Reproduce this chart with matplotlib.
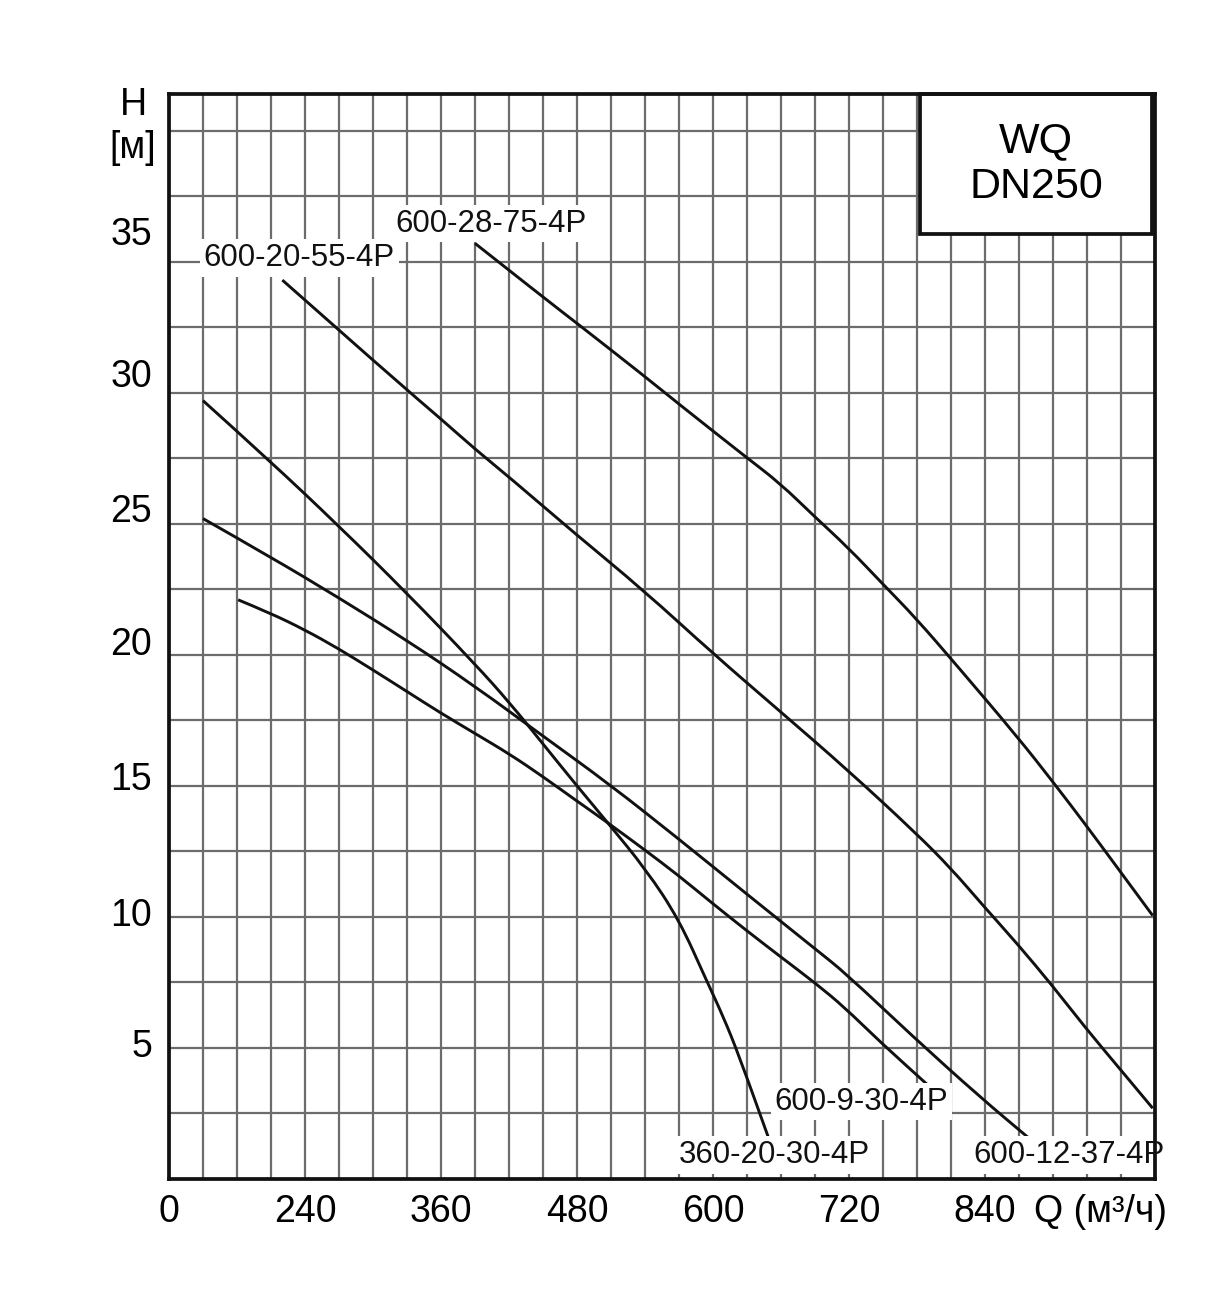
import numpy as np
import matplotlib
matplotlib.use("Agg")
import matplotlib.pyplot as plt
from matplotlib.transforms import ScaledTranslation
from matplotlib.patches import Rectangle, PathPatch
from matplotlib.path import Path

plt.rcParams['font.family'] = ['Liberation Sans', 'DejaVu Sans']

# ---- data (Q in m3/h, H in m) ----
q_600_28_75 = [390, 450, 480, 539, 569, 629, 659, 689, 719, 751, 779, 816, 869, 900, 930, 959, 988]
h_600_28_75 = [35.7, 33.65, 32.65, 30.65, 29.6, 27.55, 26.55, 25.3, 24.1, 22.65, 21.4, 19.55, 16.85, 15.15, 13.45, 11.75, 10.05]

q_600_20_55 = [220, 318, 360, 390, 421, 479, 539, 600, 659, 719, 779, 810, 839, 869, 899, 929, 959, 988]
h_600_20_55 = [34.3, 30.55, 29.0, 27.85, 26.75, 24.6, 22.45, 20.05, 17.85, 15.6, 13.2, 11.85, 10.4, 8.95, 7.4, 5.75, 4.2, 2.7]

q_360_20_30 = [150, 209, 269, 330, 390, 421, 450, 479, 507, 541, 570, 594, 609, 623, 650]
h_360_20_30 = [29.7, 27.4, 24.95, 22.35, 19.65, 18.15, 16.6, 15.05, 13.6, 11.8, 9.9, 7.6, 6.2, 4.7, 1.45]

q_600_12_37 = [150, 209, 269, 330, 390, 450, 509, 569, 629, 691, 717, 776, 835, 879]
h_600_12_37 = [25.2, 23.75, 22.2, 20.55, 18.8, 16.9, 15.05, 13.0, 10.9, 8.75, 7.85, 5.45, 3.15, 1.55]

q_600_9_30 = [181, 209, 240, 269, 299, 330, 359, 390, 421, 450, 479, 507, 540, 569, 600, 629, 659, 691, 716, 747, 793]
h_600_9_30 = [22.1, 21.6, 20.95, 20.25, 19.45, 18.6, 17.8, 17.0, 16.2, 15.35, 14.45, 13.6, 12.55, 11.6, 10.5, 9.5, 8.5, 7.45, 6.55, 5.25, 3.45]

series = [
    (q_600_28_75, h_600_28_75),
    (q_600_20_55, h_600_20_55),
    (q_360_20_30, h_360_20_30),
    (q_600_12_37, h_600_12_37),
    (q_600_9_30, h_600_9_30),
]

curve_labels = ['600-28-75-4P', '600-20-55-4P', '600-9-30-4P', '360-20-30-4P', '600-12-37-4P']
label_q = [404, 235, 731, 654, 914]
label_h = [36.45, 35.15, 2.95, 0.92, 0.92]

x_ticks = [120, 240, 360, 480, 600, 720, 840]
x_tick_labels = ['0', '240', '360', '480', '600', '720', '840']
y_ticks = [5, 10, 15, 20, 25, 30, 35]
y_tick_labels = ['5', '10', '15', '20', '25', '30', '35']

W, H = 1231, 1299
fig = plt.figure(figsize=(W / 100, H / 100), dpi=100)
ax = fig.add_axes([169 / W, 1 - 1179 / H, 986 / W, 1085 / H])

ax.set_xlim(120, 990)
ax.set_ylim(0, 41.4)

ax.set_xticks(x_ticks)
ax.set_xticklabels(x_tick_labels)
ax.set_xticks(np.arange(150, 990, 30), minor=True)
ax.set_yticks(y_ticks)
ax.set_yticklabels(y_tick_labels)
ax.set_yticks(np.arange(2.5, 41, 2.5), minor=True)

ax.grid(which='both', color='#6c6c6c', linewidth=1.6, zorder=0)
ax.tick_params(which='both', length=0)
ax.tick_params(axis='x', labelsize=27, pad=11)
ax.tick_params(axis='y', labelsize=27, pad=12)

# y tick labels drift upward slightly in the reference
y_offsets_px = [5, 5, 10, 14, 16, 20, 31]
for lab, off in zip(ax.get_yticklabels(), y_offsets_px):
    lab.set_transform(lab.get_transform() + ScaledTranslation(0, off / 100, fig.dpi_scale_trans))

for sp in ax.spines.values():
    sp.set_linewidth(2.7)
    sp.set_color('#111111')
    sp.set_zorder(5)


def smooth_path(xs, ys):
    # quadratic B-spline style path: the read points act as control points
    pts = list(zip(xs, ys))
    verts = [pts[0]]
    codes = [Path.MOVETO]
    for i in range(1, len(pts) - 1):
        m_prev = ((pts[i - 1][0] + pts[i][0]) / 2, (pts[i - 1][1] + pts[i][1]) / 2) if i > 1 else pts[0]
        m_next = ((pts[i][0] + pts[i + 1][0]) / 2, (pts[i][1] + pts[i + 1][1]) / 2)
        if i > 1:
            pass
        verts += [pts[i], m_next]
        codes += [Path.CURVE3, Path.CURVE3]
    verts.append(pts[-1])
    codes.append(Path.LINETO)
    return Path(verts, codes)


for q, h in series:
    patch = PathPatch(smooth_path(q, h), facecolor='none', edgecolor='#111111',
                      linewidth=2.1, zorder=3, capstyle='butt', joinstyle='round')
    ax.add_patch(patch)

for txt, xq, yh in zip(curve_labels, label_q, label_h):
    ax.text(xq, yh, txt, fontsize=22.5, ha='center', va='center', color='#111111',
            zorder=4, clip_on=False,
            bbox=dict(boxstyle='square,pad=0.12', facecolor='white', edgecolor='none'))

# title box
bx0 = 120 + (921 - 169) / 1.1345
bx1 = 120 + (1153 - 169) / 1.1345
by0 = (1179 - 234) / 26.2
by1 = 41.4
ax.add_patch(Rectangle((bx0, by0), bx1 - bx0, by1 - by0, facecolor='white',
                       edgecolor='#111111', linewidth=2.7, zorder=4, clip_on=False))
ax.text((bx0 + bx1) / 2, (1179 - 142) / 26.2, 'WQ', fontsize=31, ha='center', va='center', zorder=5)
ax.text((bx0 + bx1) / 2, (1179 - 187) / 26.2, 'DN250', fontsize=31, ha='center', va='center', zorder=5)

# axis titles
fig.text(133 / W, 1 - 105 / H, 'H', fontsize=27, ha='center', va='center')
fig.text(133 / W, 1 - 148 / H, '[м]', fontsize=27, ha='center', va='center')
fig.text(1034 / W, 1 - 1212 / H, 'Q (м³/ч)', fontsize=27, ha='left', va='center')

fig.savefig('out.png', dpi=100, facecolor='white')
